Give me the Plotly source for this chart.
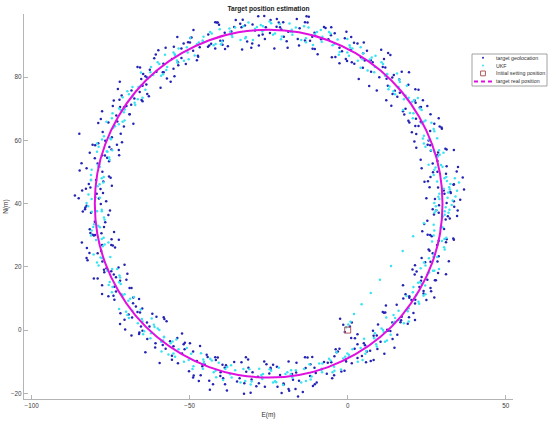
import plotly.graph_objects as go

# ---------------- data ----------------
title_text = "Target position estimation"
x_label = "E(m)"
y_label = "N(m)"
x_ticks = [-100, -50, 0, 50]
y_ticks = [-20, 0, 20, 40, 60, 80]
legend_names = ["target geolocation", "UKF", "Initial setting position", "target real position"]

# true target trajectory (magenta line)
real_E = [30, 29.2, 26.7, 22.6, 17.1, 10.4, 2.5, -6.2, -15.4, -25, -34.6, -43.8, -52.5, -60.4,
          -67.1, -72.6, -76.7, -79.2, -80, -79.2, -76.7, -72.6, -67.1, -60.4, -52.5, -43.8,
          -34.6, -25, -15.4, -6.2, 2.5, 10.4, 17.1, 22.6, 26.7, 29.2, 30]
real_N = [40, 49.6, 58.8, 67.5, 75.4, 82.1, 87.6, 91.7, 94.2, 95, 94.2, 91.7, 87.6, 82.1,
          75.4, 67.5, 58.8, 49.6, 40, 30.4, 21.2, 12.5, 4.6, -2.1, -7.6, -11.7,
          -14.2, -15, -14.2, -11.7, -7.6, -2.1, 4.6, 12.5, 21.2, 30.4, 40]

# target geolocation measurements (blue dots)
geo_pts = [
    (32.6,43.4),(26.9,38.2),(34.8,37.8),(28.6,45.1),(25.4,47.1),(31.3,40.2),(33.5,46.0),(27.6,41.5),
    (34.5,50.2),(28.4,53.5),(24.3,46.9),(30.4,44.2),(25.3,58.6),(31.3,57.1),(26.9,52.7),(28.4,50.1),
    (28.6,56.2),(21.1,59.7),(29.1,64.4),(23.1,53.9),(28.8,67.0),(22.4,64.6),(25.6,60.0),(20.3,62.6),
    (25.2,70.9),(19.5,65.7),(27.4,65.3),(21.2,72.6),(15.7,73.8),(21.6,66.9),(23.8,72.7),(17.9,68.2),
    (22.4,76.0),(16.3,79.3),(12.2,72.7),(18.3,70.0),(11.1,83.2),(17.1,81.7),(12.7,77.3),(14.2,74.7),
    (12.3,79.5),(4.8,83.0),(12.8,87.7),(6.8,77.2),(10.6,88.7),(4.2,86.3),(7.4,81.7),(2.1,84.3),
    (5.1,91.0),(-0.6,85.8),(7.3,85.4),(1.1,92.7),(-6.1,92.0),(-0.2,85.1),(2.0,90.9),(-3.9,86.4),
    (-0.9,92.3),(-7.0,95.6),(-11.1,89.0),(-5.0,86.3),(-13.5,97.4),(-7.5,95.9),(-11.9,91.5),(-10.4,88.9),
    (-13.5,91.6),(-21.0,95.1),(-13.0,99.3),(-19.0,89.3),(-16.1,98.4),(-22.5,96.0),(-19.3,91.4),(-24.6,94.0),
    (-22.4,98.4),(-28.1,93.2),(-20.2,92.8),(-26.4,99.4),(-34.0,96.9),(-28.1,90.0),(-25.9,95.8),(-31.8,91.3),
    (-29.3,94.8),(-35.4,98.1),(-39.5,91.5),(-33.4,88.8),(-41.9,97.4),(-35.9,95.9),(-40.3,91.5),(-38.8,88.9),
    (-41.9,89.1),(-49.4,92.6),(-41.4,97.3),(-47.4,86.8),(-44.1,93.5),(-50.5,91.1),(-47.3,86.5),(-52.6,89.1),
    (-49.9,91.0),(-55.6,85.8),(-47.7,85.4),(-53.9,92.7),(-60.7,87.2),(-54.8,80.3),(-52.6,86.1),(-58.5,81.6),
    (-55.1,82.7),(-61.2,86.0),(-65.3,79.4),(-59.2,76.7),(-66.5,83.2),(-60.5,81.7),(-64.9,77.3),(-63.4,74.7),
    (-65.2,72.8),(-72.7,76.3),(-64.7,81.0),(-70.7,70.5),(-65.8,75.3),(-72.2,72.9),(-69.0,68.3),(-74.3,70.9),
    (-70.0,70.9),(-75.7,65.7),(-67.8,65.3),(-74.0,72.6),(-78.9,65.5),(-73.0,58.6),(-70.8,64.4),(-76.7,59.9),
    (-71.4,59.4),(-77.5,62.7),(-81.6,56.1),(-75.5,53.4),(-80.7,58.6),(-74.7,57.1),(-79.1,52.7),(-77.6,50.1),
    (-77.3,47.0),(-84.8,50.5),(-76.8,55.2),(-82.8,44.7),(-75.5,48.6),(-81.9,46.2),(-78.7,41.6),(-84.0,44.2),
    (-77.4,43.4),(-83.1,38.2),(-75.2,37.8),(-81.4,45.1),(-83.8,37.5),(-77.9,30.6),(-75.7,36.4),(-81.6,31.9),
    (-73.9,31.0),(-80.0,34.3),(-84.1,27.7),(-78.0,25.0),(-80.7,30.2),(-74.7,28.7),(-79.1,24.3),(-77.6,21.7),
    (-74.8,18.6),(-82.3,22.1),(-74.3,26.8),(-80.3,16.3),(-70.6,20.7),(-77.0,18.3),(-73.8,13.7),(-79.1,16.3),
    (-70.0,15.9),(-75.7,10.7),(-67.8,10.3),(-74.0,17.6),(-74.1,10.9),(-68.2,4.0),(-66.0,9.8),(-71.9,5.3),
    (-61.8,5.2),(-67.9,8.5),(-72.0,1.9),(-65.9,-0.8),(-66.5,5.7),(-60.5,4.2),(-64.9,-0.2),(-63.4,-2.8),
    (-58.5,-4.7),(-66.0,-1.2),(-58.0,3.5),(-64.0,-7.0),(-52.4,-1.1),(-58.8,-3.5),(-55.6,-8.1),(-60.9,-5.5),
    (-49.9,-4.2),(-55.6,-9.4),(-47.7,-9.8),(-53.9,-2.5),(-52.4,-7.4),(-46.5,-14.3),(-44.3,-8.5),(-50.2,-13.0),
    (-38.5,-11.1),(-44.6,-7.8),(-48.7,-14.4),(-42.6,-17.1),(-41.9,-8.6),(-35.9,-10.1),(-40.3,-14.5),(-38.8,-17.1),
    (-32.7,-16.8),(-40.2,-13.3),(-32.2,-8.6),(-38.2,-19.1),(-25.7,-10.8),(-32.1,-13.2),(-28.9,-17.8),(-34.2,-15.2),
    (-22.4,-11.6),(-28.1,-16.8),(-20.2,-17.2),(-26.4,-9.9),(-24.4,-12.3),(-18.5,-19.2),(-16.3,-13.4),(-22.2,-17.9),
    (-10.1,-13.6),(-16.2,-10.3),(-20.3,-16.9),(-14.2,-19.6),(-13.5,-8.6),(-7.5,-10.1),(-11.9,-14.5),(-10.4,-17.1),
    (-4.3,-14.3),(-11.8,-10.8),(-3.8,-6.1),(-9.8,-16.6),(2.2,-5.9),(-4.2,-8.3),(-1.0,-12.9),(-6.3,-10.3),
    (5.1,-4.2),(-0.6,-9.4),(7.3,-9.8),(1.1,-2.5),(2.3,-2.6),(8.2,-9.5),(10.4,-3.7),(4.5,-8.2),
    (15.7,-1.5),(9.6,1.8),(5.5,-4.8),(11.6,-7.5),(11.1,5.7),(17.1,4.2),(12.7,-0.2),(14.2,-2.8),
    (19.0,2.0),(11.5,5.5),(19.5,10.2),(13.5,-0.3),(24.0,12.4),(17.6,10.0),(20.8,5.4),(15.5,8.0),
    (25.2,15.9),(19.5,10.7),(27.4,10.3),(21.2,17.6),(20.5,19.2),(26.4,12.3),(28.6,18.1),(22.7,13.6),
    (32.0,21.8),(25.9,25.1),(21.8,18.5),(27.9,15.8),(25.3,30.2),(31.3,28.7),(26.9,24.3),(28.4,21.7),
    (31.1,27.8),(23.6,31.3),(31.7,36.0),(25.6,25.5),(33.7,39.0),(27.3,36.6),(30.5,32.0),(25.2,34.6),
    (28.8,37.1),(33.6,40.8),(24.9,41.7),(30.6,43.1),(32.5,43.7),(26.2,48.4),(31.1,49.5),(28.9,39.5),
    (27.0,49.9),(33.6,46.1),(25.9,45.2),(31.3,51.8),(28.3,55.3),(23.4,51.2),(33.6,57.0),(26.1,58.5),
    (29.8,63.7),(26.3,56.7),(21.7,62.0),(30.9,57.4),(21.7,57.7),(26.1,63.0),(23.1,65.9),(29.7,64.1),
    (21.4,64.6),(26.2,68.3),(17.5,69.2),(23.2,70.6),(22.8,70.4),(16.5,75.1),(21.4,76.2),(19.2,66.2),
    (14.9,75.7),(21.5,71.9),(13.8,71.0),(19.2,77.6),(14.1,79.9),(9.2,75.8),(19.4,81.6),(11.9,83.1),
    (13.5,87.0),(10.0,80.0),(5.4,85.3),(14.6,80.7),(3.5,79.4),(7.9,84.7),(4.9,87.6),(11.5,85.8),
    (1.3,84.7),(6.1,88.4),(-2.6,89.3),(3.1,90.7),(1.0,88.6),(-5.3,93.3),(-0.4,94.4),(-2.6,84.4),
    (-8.4,92.0),(-1.8,88.2),(-9.5,87.3),(-4.1,93.9),(-10.5,94.1),(-15.4,90.0),(-5.2,95.8),(-12.7,97.3),
    (-12.3,99.1),(-15.8,92.1),(-20.4,97.4),(-11.2,92.8),(-23.2,89.1),(-18.8,94.4),(-21.8,97.3),(-15.2,95.5),
    (-26.2,92.1),(-21.4,95.8),(-30.1,96.7),(-24.4,98.1),(-26.9,93.5),(-33.2,98.2),(-28.3,99.3),(-30.5,89.3),
    (-36.8,94.5),(-30.2,90.7),(-37.9,89.8),(-32.5,96.4),(-38.9,94.1),(-43.8,90.0),(-33.6,95.8),(-41.1,97.3),
    (-40.7,96.6),(-44.2,89.6),(-48.8,94.9),(-39.6,90.3),(-51.2,84.2),(-46.8,89.5),(-49.8,92.4),(-43.2,90.6),
    (-53.7,84.7),(-48.9,88.4),(-57.6,89.3),(-51.9,90.7),(-53.6,83.8),(-59.9,88.5),(-55.0,89.6),(-57.2,79.6),
    (-62.6,82.4),(-56.0,78.6),(-63.7,77.7),(-58.3,84.3),(-63.5,79.9),(-68.4,75.8),(-58.2,81.6),(-65.7,83.1),
    (-64.0,80.3),(-67.5,73.3),(-72.1,78.6),(-62.9,74.0),(-72.9,66.0),(-68.5,71.3),(-71.5,74.2),(-64.9,72.4),
    (-73.8,64.6),(-69.0,68.3),(-77.7,69.2),(-72.0,70.6),(-71.8,62.1),(-78.1,66.8),(-73.2,67.9),(-75.4,57.9),
    (-78.9,59.1),(-72.3,55.3),(-80.0,54.4),(-74.6,61.0),(-77.7,55.3),(-82.6,51.2),(-72.4,57.0),(-79.9,58.5),
    (-76.1,54.5),(-79.6,47.5),(-84.2,52.8),(-75.0,48.2),(-82.6,39.3),(-78.2,44.6),(-81.2,47.5),(-74.6,45.7),
    (-81.2,37.1),(-76.4,40.8),(-85.1,41.7),(-79.4,43.1),(-76.7,34.1),(-83.0,38.8),(-78.1,39.9),(-80.3,29.9),
    (-81.4,30.7),(-74.8,26.9),(-82.5,26.0),(-77.1,32.6),(-77.7,26.9),(-82.6,22.8),(-72.4,28.6),(-79.9,30.1),
    (-73.6,26.1),(-77.1,19.1),(-81.7,24.4),(-72.5,19.8),(-77.7,11.4),(-73.3,16.7),(-76.3,19.6),(-69.7,17.8),
    (-73.8,9.6),(-69.0,13.3),(-77.7,14.2),(-72.0,15.6),(-67.0,7.5),(-73.3,12.2),(-68.4,13.3),(-70.6,3.3),
    (-69.3,4.9),(-62.7,1.1),(-70.4,0.2),(-65.0,6.8),(-63.5,2.4),(-68.4,-1.7),(-58.2,4.1),(-65.7,5.6),
    (-57.3,2.8),(-60.8,-4.2),(-65.4,1.1),(-56.2,-3.5),(-59.5,-10.4),(-55.1,-5.1),(-58.1,-2.2),(-51.5,-4.0),
    (-53.7,-10.5),(-48.9,-6.8),(-57.6,-5.9),(-51.9,-4.5),(-45.3,-10.8),(-51.6,-6.1),(-46.7,-5.0),(-48.9,-15.0),
    (-46.0,-11.4),(-39.4,-15.2),(-47.1,-16.1),(-41.7,-9.5),(-38.9,-11.9),(-43.8,-16.0),(-33.6,-10.2),(-41.1,-8.7),
    (-31.5,-9.3),(-35.0,-16.3),(-39.6,-11.0),(-30.4,-15.6),(-32.8,-20.1),(-28.4,-14.8),(-31.4,-11.9),(-24.8,-13.7),
    (-26.2,-17.9),(-21.4,-14.2),(-30.1,-13.3),(-24.4,-11.9),(-17.3,-15.7),(-23.6,-11.0),(-18.7,-9.9),(-20.9,-19.9),
    (-17.6,-13.9),(-11.0,-17.7),(-18.7,-18.6),(-13.3,-12.0),(-10.5,-11.9),(-15.4,-16.0),(-5.2,-10.2),(-12.7,-8.7),
    (-3.1,-6.8),(-6.6,-13.8),(-11.2,-8.5),(-2.0,-13.1),(-4.9,-15.2),(-0.5,-9.9),(-3.5,-7.0),(3.1,-8.8),
    (1.3,-10.5),(6.1,-6.8),(-2.6,-5.9),(3.1,-4.5),(9.4,-6.0),(3.1,-1.3),(8.0,-0.2),(5.8,-10.2),
    (8.2,-1.8),(14.8,-5.6),(7.1,-6.5),(12.5,0.1),(14.1,2.4),(9.2,-1.7),(19.4,4.1),(11.9,5.6),
    (20.2,9.5),(16.7,2.5),(12.1,7.8),(21.3,3.2),(16.9,3.1),(21.3,8.4),(18.3,11.3),(24.9,9.5),
    (21.4,9.6),(26.2,13.3),(17.5,14.2),(23.2,15.6),(27.6,15.8),(21.3,20.5),(26.2,21.6),(24.0,11.6),
    (24.5,21.5),(31.1,17.7),(23.4,16.8),(28.8,23.4),(28.3,26.9),(23.4,22.8),(33.6,28.6),(26.1,30.1),
    (32.3,35.3),(28.8,28.3),(24.2,33.6),(33.4,29.0),(26.6,29.7),(31.0,35.0),(28.0,37.9),(34.6,36.1),
    (-15.7,-21.0),(-43.6,-18.9),(-16.5,-18.6),(36.4,48.3),(34.9,51.6),(36.8,44.5),(-86.3,42.6),
    (-84.9,62.1),(-2.4,3.6),(-1.4,1.7),(1.3,2.4),(0.7,1.1),(-0.9,-0.6),(-30.7,-19.8),(35.6,41.2),
]

# UKF estimates (cyan dots)
ukf_pts = [
    (31.6,41.9),(27.9,39.2),(30.7,37.6),(28.3,47.0),(32.1,45.2),(29.0,43.1),(31.2,48.4),(27.4,50.7),(29.5,52.2),
    (25.6,52.3),(29.1,55.5),(27.8,51.4),(28.3,60.7),(24.6,58.0),(27.4,56.4),(23.4,65.4),(27.2,63.6),(24.1,61.5),
    (24.6,66.3),(20.8,68.6),(22.9,70.1),(17.5,69.6),(21.0,72.8),(19.7,68.7),(18.7,77.3),(15.0,74.6),(17.8,73.0),
    (12.5,81.0),(16.3,79.2),(13.2,77.1),(12.4,80.9),(8.6,83.2),(10.7,84.7),(4.1,83.0),(7.6,86.2),(6.3,82.1),
    (4.1,89.5),(0.4,86.8),(3.2,85.2),(-3.2,91.9),(0.6,90.1),(-2.5,88.0),(-4.2,90.5),(-8.0,92.8),(-5.9,94.3),
    (-13.2,91.1),(-9.7,94.3),(-11.0,90.2),(-13.8,96.1),(-17.5,93.4),(-14.7,91.8),(-21.5,96.8),(-17.7,95.0),(-20.8,92.9),
    (-23.0,93.8),(-26.8,96.1),(-24.7,97.6),(-32.2,92.7),(-28.7,95.9),(-30.0,91.8),(-33.0,96.1),(-36.7,93.4),(-33.9,91.8),
    (-40.5,95.2),(-36.7,93.4),(-39.8,91.3),(-41.8,90.5),(-45.6,92.8),(-43.5,94.3),(-50.6,87.8),(-47.1,91.0),(-48.4,86.9),
    (-50.9,89.5),(-54.6,86.8),(-51.8,85.2),(-57.8,87.1),(-54.0,85.3),(-57.1,83.2),(-58.4,80.9),(-62.2,83.2),(-60.1,84.7),
    (-66.2,76.9),(-62.7,80.1),(-64.0,76.0),(-65.5,77.3),(-69.2,74.6),(-66.4,73.0),(-71.2,73.7),(-67.4,71.9),(-70.5,69.8),
    (-70.6,66.3),(-74.4,68.6),(-72.3,70.1),(-77.1,61.3),(-73.6,64.5),(-74.9,60.4),(-75.1,60.7),(-78.8,58.0),(-76.0,56.4),
    (-79.3,56.4),(-75.5,54.6),(-78.6,52.5),(-77.2,48.4),(-81.0,50.7),(-78.9,52.2),(-82.0,42.9),(-78.5,46.1),(-79.8,42.0),
    (-78.4,41.9),(-82.1,39.2),(-79.3,37.6),(-80.9,37.4),(-77.1,35.6),(-80.2,33.5),(-77.2,29.2),(-81.0,31.5),(-78.9,33.0),
    (-80.4,23.9),(-76.9,27.1),(-78.2,23.0),(-75.1,23.1),(-78.8,20.4),(-76.0,18.8),(-76.0,19.1),(-72.2,17.3),(-75.3,15.2),
    (-70.6,11.3),(-74.4,13.6),(-72.3,15.1),(-72.3,6.7),(-68.8,9.9),(-70.1,5.8),(-65.5,6.5),(-69.2,3.8),(-66.4,2.2),
    (-65.1,3.5),(-61.3,1.7),(-64.4,-0.4),(-58.4,-3.3),(-62.2,-1.0),(-60.1,0.5),(-58.9,-6.8),(-55.4,-3.6),(-56.7,-7.7),
    (-50.9,-5.7),(-54.6,-8.4),(-51.8,-10.0),(-49.5,-7.5),(-45.7,-9.3),(-48.8,-11.4),(-41.8,-12.9),(-45.6,-10.6),(-43.5,-9.1),
    (-41.6,-14.9),(-38.1,-11.7),(-39.4,-15.8),(-33.0,-12.3),(-36.7,-15.0),(-33.9,-16.6),(-31.1,-12.4),(-27.3,-14.2),(-30.4,-16.3),
    (-23.0,-16.2),(-26.8,-13.9),(-24.7,-12.4),(-22.6,-16.5),(-19.1,-13.3),(-20.4,-17.4),(-13.8,-12.3),(-17.5,-15.0),(-14.7,-16.6),
    (-12.1,-10.8),(-8.3,-12.6),(-11.4,-14.7),(-4.2,-12.9),(-8.0,-10.6),(-5.9,-9.1),(-4.3,-11.6),(-0.8,-8.4),(-2.1,-12.5),
    (4.1,-5.7),(0.4,-8.4),(3.2,-10.0),(5.2,-2.7),(9.0,-4.5),(5.9,-6.6),(12.4,-3.3),(8.6,-1.0),(10.7,0.5),
    (11.4,-0.6),(14.9,2.6),(13.6,-1.5),(18.7,6.5),(15.0,3.8),(17.8,2.2),(18.6,10.8),(22.4,9.0),(19.3,6.9),
    (24.6,11.3),(20.8,13.6),(22.9,15.1),(22.3,15.0),(25.8,18.2),(24.5,14.1),(28.3,23.1),(24.6,20.4),(27.4,18.8),
    (26.7,28.0),(30.5,26.2),(27.4,24.1),(31.2,29.2),(27.4,31.5),(29.5,33.0),(27.2,33.3),(30.7,36.5),(29.4,32.4),
    (29.0,41.5),(32.2,38.1),(27.4,40.2),(31.4,47.2),(28.7,42.2),(32.3,44.5),(27.2,49.1),(30.0,51.7),(30.6,48.0),
    (28.5,54.9),(26.4,56.9),(30.3,56.1),(25.7,60.3),(28.9,56.9),(24.1,59.0),(26.5,65.6),(23.8,60.6),(27.4,62.9),
    (20.6,67.0),(23.4,69.6),(24.0,65.9),(20.4,72.2),(18.3,74.2),(22.2,73.4),(16.1,76.9),(19.3,73.5),(14.5,75.6),
    (15.6,81.2),(12.9,76.2),(16.5,78.5),(8.4,81.6),(11.2,84.2),(11.8,80.5),(7.0,85.6),(4.9,87.6),(8.8,86.8),
    (1.5,89.1),(4.7,85.7),(-0.1,87.8),(-0.1,92.1),(-2.8,87.1),(0.8,89.4),(-8.2,91.2),(-5.4,93.8),(-4.8,90.1),
    (-10.3,93.7),(-12.4,95.7),(-8.5,94.9),(-16.4,95.7),(-13.2,92.3),(-18.0,94.4),(-18.4,97.0),(-21.1,92.0),(-17.5,94.3),
    (-27.0,94.5),(-24.2,97.1),(-23.6,93.4),(-29.3,95.3),(-31.4,97.3),(-27.5,96.5),(-35.6,95.7),(-32.4,92.3),(-37.2,94.4),
    (-37.4,95.4),(-40.1,90.4),(-36.5,92.7),(-45.8,91.2),(-43.0,93.8),(-42.4,90.1),(-47.7,90.4),(-49.8,92.4),(-45.9,91.6),
    (-53.5,89.1),(-50.3,85.7),(-55.1,87.8),(-54.7,87.3),(-57.4,82.3),(-53.8,84.6),(-62.4,81.6),(-59.6,84.2),(-59.0,80.5),
    (-63.3,79.5),(-65.4,81.5),(-61.5,80.7),(-68.1,76.9),(-64.9,73.5),(-69.7,75.6),(-68.1,73.9),(-70.8,68.9),(-67.2,71.2),
    (-74.6,67.0),(-71.8,69.6),(-71.2,65.9),(-74.2,63.9),(-76.3,65.9),(-72.4,65.1),(-77.7,60.3),(-74.5,56.9),(-79.3,59.0),
    (-76.2,56.6),(-78.9,51.6),(-75.3,53.9),(-81.2,49.1),(-78.4,51.7),(-77.8,48.0),(-79.1,45.5),(-81.2,47.5),(-77.3,46.7),
    (-81.0,41.5),(-77.8,38.1),(-82.6,40.2),(-77.8,37.6),(-80.5,32.6),(-76.9,34.9),(-81.2,29.9),(-78.4,32.5),(-77.8,28.8),
    (-77.5,26.5),(-79.6,28.5),(-75.7,27.7),(-77.7,22.7),(-74.5,19.3),(-79.3,21.4),(-72.9,19.3),(-75.6,14.3),(-72.0,16.6),
    (-74.6,12.0),(-71.8,14.6),(-71.2,10.9),(-69.4,9.3),(-71.5,11.3),(-67.6,10.5),(-68.1,6.1),(-64.9,2.7),(-69.7,4.8),
    (-62.0,3.7),(-64.7,-1.3),(-61.1,1.0),(-62.4,-2.6),(-59.6,0.0),(-59.0,-3.7),(-56.0,-4.2),(-58.1,-2.2),(-54.2,-3.0),
    (-53.5,-6.1),(-50.3,-9.5),(-55.1,-7.4),(-46.4,-7.3),(-49.1,-12.3),(-45.5,-10.0),(-45.8,-12.2),(-43.0,-9.6),(-42.4,-13.3),
    (-38.7,-12.3),(-40.8,-10.3),(-36.9,-11.1),(-35.6,-12.7),(-32.4,-16.1),(-37.2,-14.0),(-28.0,-12.2),(-30.7,-17.2),(-27.1,-14.9),
    (-27.0,-15.5),(-24.2,-12.9),(-23.6,-16.6),(-19.7,-13.9),(-21.8,-11.9),(-17.9,-12.7),(-16.4,-12.7),(-13.2,-16.1),(-18.0,-14.0),
    (-9.0,-10.6),(-11.7,-15.6),(-8.1,-13.3),(-8.2,-12.2),(-5.4,-9.6),(-4.8,-13.3),(-1.4,-9.0),(-3.5,-7.0),(0.4,-7.8),
    (1.5,-6.1),(4.7,-9.5),(-0.1,-7.4),(8.3,-2.5),(5.6,-7.5),(9.2,-5.2),(8.4,-2.6),(11.2,0.0),(11.8,-3.7),
    (14.3,2.0),(12.2,4.0),(16.1,3.2),(16.1,6.1),(19.3,2.7),(14.5,4.8),(21.7,11.0),(19.0,6.0),(22.6,8.3),
    (20.6,12.0),(23.4,14.6),(24.0,10.9),(25.2,17.6),(23.1,19.6),(27.0,18.8),(25.7,22.7),(28.9,19.3),(24.1,21.4),
    (29.8,28.2),(27.1,23.2),(30.7,25.5),(27.2,29.9),(30.0,32.5),(30.6,28.8),(30.1,35.9),(28.0,37.9),(31.9,37.1),
    (0.2,1.8),(-0.5,0.9),(0.9,2.6),(2.0,5.1),(4.4,8.2),(7.3,11.7),(10.2,15.9),(13.7,20.3),(17.4,25.0),
    (20.7,29.7),(24.1,33.8),(27.5,37.2),(31.8,43.5),(33.2,41.0),(32.5,46.2),(34.6,44.1),(31.0,38.9),(33.9,48.0),
    (35.2,46.7),(30.4,44.7),(32.9,39.6),(34.1,42.3),
]

# initial setting position (square)
init_E = [0]
init_N = [0]

geo_E = [p[0] for p in geo_pts]
geo_N = [p[1] for p in geo_pts]
ukf_E = [p[0] for p in ukf_pts]
ukf_N = [p[1] for p in ukf_pts]

FONT = "Liberation Sans, Arial, sans-serif"
C_GEO = "#2323b4"
C_UKF = "#38e2f2"
C_INIT = "#b05a5a"
C_REAL = "#e010e0"

fig = go.Figure()
fig.add_trace(go.Scatter(x=geo_E, y=geo_N, mode="markers", name=legend_names[0], showlegend=False,
                         marker=dict(color=C_GEO, size=2.5, line=dict(width=0))))
fig.add_trace(go.Scatter(x=ukf_E, y=ukf_N, mode="markers", name=legend_names[1], showlegend=False,
                         marker=dict(color=C_UKF, size=2.5, line=dict(width=0))))
fig.add_trace(go.Scatter(x=init_E, y=init_N, mode="markers", name=legend_names[2], showlegend=False,
                         marker=dict(symbol="square-open", color=C_INIT, size=6, line=dict(width=1))))
fig.add_trace(go.Scatter(x=real_E, y=real_N, mode="lines", name=legend_names[3], showlegend=False,
                         line=dict(color=C_REAL, width=2, shape="spline")))

# ---- compact MATLAB-style legend box (paper coordinates of plot area) ----
L, R, T, B = 24, 513, 14, 399          # plot-area pixel box
def px(x): return (x - L) / (R - L)
def py(y): return (B - y) / (B - T)

shapes = [dict(type="rect", xref="paper", yref="paper", x0=px(472), x1=px(547), y0=py(86), y1=py(54),
               line=dict(color="#8a8a8a", width=0.8), fillcolor="white", layer="above")]
rows = [57.8, 65.6, 73.4, 81.4]
sym_x = 483
for yy, col in zip(rows[:2], [C_GEO, C_UKF]):
    shapes.append(dict(type="circle", xref="paper", yref="paper", x0=px(sym_x - 1), x1=px(sym_x + 1),
                       y0=py(yy + 1), y1=py(yy - 1), line=dict(width=0), fillcolor=col, layer="above"))
shapes.append(dict(type="rect", xref="paper", yref="paper", x0=px(sym_x - 2.4), x1=px(sym_x + 2.4),
                   y0=py(rows[2] + 2.4), y1=py(rows[2] - 2.4), line=dict(color=C_INIT, width=1), layer="above"))
shapes.append(dict(type="line", xref="paper", yref="paper", x0=px(474), x1=px(492),
                   y0=py(rows[3]), y1=py(rows[3]), line=dict(color=C_REAL, width=2, dash="4px,3px"), layer="above"))

annotations = []
for yy, name in zip(rows, legend_names):
    annotations.append(dict(text=name, xref="paper", yref="paper", x=px(494), y=py(yy),
                            xanchor="left", yanchor="middle", showarrow=False,
                            font=dict(family=FONT, size=5.3, color="#303030")))

axis_common = dict(showgrid=False, zeroline=False, showline=True, linecolor="#b4b4b4", linewidth=1.3,
                   ticks="inside", ticklen=4, tickwidth=1, tickcolor="#b4b4b4",
                   tickfont=dict(family=FONT, size=6.3, color="#404040"), mirror=False)

fig.update_layout(
    width=550, height=423,
    margin=dict(l=L, r=550 - R, t=T, b=423 - B, autoexpand=False),
    paper_bgcolor="white", plot_bgcolor="white",
    showlegend=False,
    title=dict(text="<b>" + title_text + "</b>", x=0.5, xanchor="center", y=0.979, yanchor="middle",
               xref="paper", yref="container", font=dict(family=FONT, size=6.6, color="#202020")),
    xaxis=dict(range=[-102.4, 52.3], tickvals=x_ticks,
               title=dict(text=x_label, font=dict(family=FONT, size=6.5, color="#303030"), standoff=4),
               **axis_common),
    yaxis=dict(range=[-21.8, 100], tickvals=y_ticks,
               title=dict(text=y_label, font=dict(family=FONT, size=6.5, color="#303030"), standoff=1),
               **axis_common),
    shapes=shapes,
    annotations=annotations,
)

fig.write_html("out.html", config={"displayModeBar": False},
               post_script="document.body.style.margin='0px';document.body.style.overflow='hidden';")
